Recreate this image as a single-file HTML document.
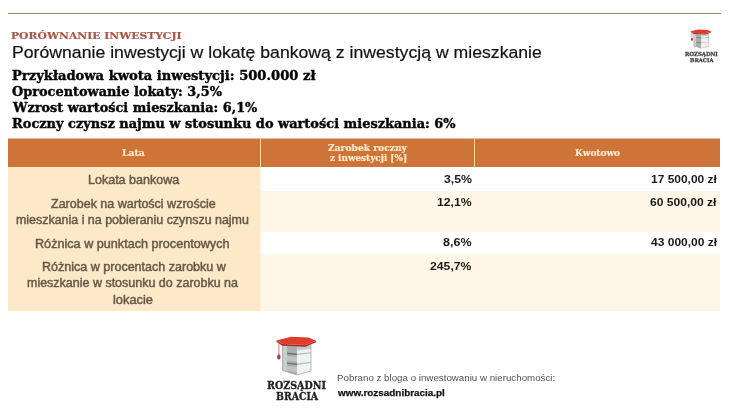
<!DOCTYPE html>
<html lang="pl">
<head>
<meta charset="utf-8">
<title>Porównanie inwestycji</title>
<style>
html,body{margin:0;padding:0;background:#fff;}
body{width:730px;height:413px;position:relative;overflow:hidden;font-family:"Liberation Sans",sans-serif;}
.abs{position:absolute;}
.t{position:absolute;white-space:nowrap;transform-origin:0 0;line-height:1;}
.h1{font-family:"DejaVu Serif","Liberation Serif",serif;font-weight:bold;color:#a85846;-webkit-text-stroke:0.2px #a85846;}
.h2{color:#111;-webkit-text-stroke:0.2px #111;}
.b{font-family:"DejaVu Serif","Liberation Serif",serif;font-weight:bold;color:#050505;-webkit-text-stroke:0.4px #050505;}
.th{font-family:"DejaVu Serif","Liberation Serif",serif;font-weight:bold;color:#ffe9cc;-webkit-text-stroke:0.2px #ffe9cc;}
.c1{color:#665848;-webkit-text-stroke:0.45px #665848;}
.num{font-weight:bold;color:#1a1a1a;}
.foot1{color:#505050;}
.foot2{color:#111;font-weight:bold;-webkit-text-stroke:0.25px #111;}
.lg{font-family:"DejaVu Serif","Liberation Serif",serif;font-weight:bold;color:#222;-webkit-text-stroke:0.3px #222;}
.slg{color:#3a3a3a;-webkit-text-stroke:0.25px #3a3a3a;}
.cell{position:absolute;}
</style>
</head>
<body>
<div class="abs" style="left:8px;top:10px;width:713px;height:3px;background:#fffbf4"></div>
<div class="abs" style="left:8px;top:13px;width:713px;height:1px;background:#a38b74"></div>

<!-- small logo top right -->
<svg class="abs" style="left:684px;top:24px" width="36" height="28" viewBox="0 0 36 28">
  <g transform="translate(3.3,2.2) scale(0.5215,0.49)">
  <polygon points="12.6,14.5 27,15.5 27,44.9 12.6,40.4" fill="#a9afae"/>
  <polygon points="12.6,14.5 17,14.8 17,41.8 12.6,40.4" fill="#c9cecd"/>
  <polygon points="27,15.5 41,14.5 41,41 27,44.9" fill="#f0f2f2"/>
  <polygon points="27,15.5 41,14.5 41,19 27,20.5" fill="#c4c9c9"/>
  <polygon points="17,22.6 27,23.4 27,25 17,24.2" fill="#6f7777"/>
  <polygon points="17,32.4 27,33.4 27,35 17,34" fill="#6f7777"/>
  <polygon points="27,23.4 41,22.2 41,23.4 27,25" fill="#b9bfbf"/>
  <polygon points="27,33.4 41,31.8 41,33 27,35" fill="#b9bfbf"/>
  <path d="M12.6,14.5 L12.6,40.4 L27,44.9 L41,41 L41,14.5" fill="none" stroke="#8d9493" stroke-width="0.8"/>
  <polygon points="6.5,10.4 12.6,14 35.4,15.1 46,10.7 46,12.3 35.4,16.8 12.6,15.7 6.5,12" fill="#a92b23"/>
  <polygon points="6.5,10.4 21,6.7 38.7,7.6 46,10.7 35.4,15.1 12.6,14" fill="#e03b2b"/>
  <rect x="8.3" y="11.5" width="1.2" height="13" fill="#c9574d"/>
  <ellipse cx="8.9" cy="26.9" rx="1.9" ry="2.8" fill="#a8323a"/>
  </g>
</svg>

<!-- table -->
<div class="abs" style="left:8px;top:139px;width:712px;height:172px;">
  <div class="cell" style="left:0;top:-1px;width:712px;height:1px;background:#e8bc9e"></div>
  <div class="cell" style="left:0;top:0;width:712px;height:28px;background:#ce7439"></div>
  <div class="cell" style="left:252px;top:0;width:1px;height:28px;background:#ffd6a4"></div>
  <div class="cell" style="left:466px;top:0;width:1px;height:28px;background:#ffd6a4"></div>
  <div class="cell" style="left:0;top:28px;width:252px;height:144px;background:#fde9c8"></div>
  <div class="cell" style="left:252px;top:28px;width:1px;height:144px;background:#fff3e2"></div>
  <div class="cell" style="left:253px;top:28px;width:459px;height:24px;background:#ffffff"></div>
  <div class="cell" style="left:253px;top:52px;width:459px;height:41px;background:#fff6e7"></div>
  <div class="cell" style="left:253px;top:93px;width:459px;height:22px;background:#ffffff"></div>
  <div class="cell" style="left:253px;top:115px;width:459px;height:57px;background:#fff6e7"></div>
</div>

<!-- footer logo -->
<svg class="abs" style="left:270px;top:330px" width="56" height="50" viewBox="0 0 56 50">
  <g id="lgo">
  <polygon points="12.6,14.5 27,15.5 27,44.9 12.6,40.4" fill="#a9afae"/>
  <polygon points="12.6,14.5 17,14.8 17,41.8 12.6,40.4" fill="#c9cecd"/>
  <polygon points="27,15.5 41,14.5 41,41 27,44.9" fill="#f0f2f2"/>
  <polygon points="27,15.5 41,14.5 41,19 27,20.5" fill="#c4c9c9"/>
  <polygon points="17,22.6 27,23.4 27,25 17,24.2" fill="#6f7777"/>
  <polygon points="17,32.4 27,33.4 27,35 17,34" fill="#6f7777"/>
  <polygon points="27,23.4 41,22.2 41,23.4 27,25" fill="#b9bfbf"/>
  <polygon points="27,33.4 41,31.8 41,33 27,35" fill="#b9bfbf"/>
  <polygon points="17,26 27,27 27,31.6 17,30.6" fill="#bfc5c4"/>
  <polygon points="17,36 27,37 27,42.6 17,40.4" fill="#bfc5c4"/>
  <path d="M12.6,14.5 L12.6,40.4 L27,44.9 L41,41 L41,14.5" fill="none" stroke="#8d9493" stroke-width="0.6"/>
  <polygon points="6.5,10.4 12.6,14 35.4,15.1 46,10.7 46,12.3 35.4,16.8 12.6,15.7 6.5,12" fill="#a92b23"/>
  <polygon points="6.5,10.4 21,6.7 38.7,7.6 46,10.7 35.4,15.1 12.6,14" fill="#e03b2b"/>
  <rect x="8.5" y="11.5" width="0.8" height="13" fill="#c9574d"/>
  <ellipse cx="8.9" cy="26.9" rx="1.7" ry="2.6" fill="#a8323a"/>
  </g>
</svg>
<div class="t h1" id="h1" style="left:11.29px;top:30.61px;font-size:9.8px;transform:scaleX(1.1024);">PORÓWNANIE INWESTYCJI</div>
<div class="t h2" id="h2" style="left:11.55px;top:44.51px;font-size:16.9px;transform:scaleX(1.0452);">Porównanie inwestycji w lokatę bankową z inwestycją w mieszkanie</div>
<div class="t b" id="b1" style="left:12.17px;top:69.60px;font-size:12.7px;transform:scaleX(1.0328);">Przykładowa kwota inwestycji: 500.000 zł</div>
<div class="t b" id="b2" style="left:12.01px;top:86.00px;font-size:12.7px;transform:scaleX(1.0153);">Oprocentowanie lokaty: 3,5%</div>
<div class="t b" id="b3" style="left:12.97px;top:102.21px;font-size:12.7px;transform:scaleX(1.0118);">Wzrost wartości mieszkania: 6,1%</div>
<div class="t b" id="b4" style="left:12.20px;top:118.41px;font-size:12.7px;transform:scaleX(1.0196);">Roczny czynsz najmu w stosunku do wartości mieszkania: 6%</div>
<div class="t th" id="th1" style="left:122.43px;top:148.80px;font-size:8.4px;transform:scaleX(1.1047);">Lata</div>
<div class="t th" id="th2a" style="left:328.40px;top:144.01px;font-size:8.4px;transform:scaleX(1.0913);">Zarobek roczny</div>
<div class="t th" id="th2b" style="left:330.21px;top:154.30px;font-size:8.4px;transform:scaleX(1.0554);">z inwestycji [%]</div>
<div class="t th" id="th3" style="left:574.95px;top:149.21px;font-size:8.4px;transform:scaleX(1.0641);">Kwotowo</div>
<div class="t c1" id="r1" style="left:88.46px;top:174.71px;font-size:11.9px;transform:scaleX(1.0522);">Lokata bankowa</div>
<div class="t c1" id="r2a" style="left:50.79px;top:198.71px;font-size:11.9px;transform:scaleX(1.0520);">Zarobek na wartości wzroście</div>
<div class="t c1" id="r2b" style="left:16.40px;top:214.51px;font-size:11.9px;transform:scaleX(1.0455);">mieszkania i na pobieraniu czynszu najmu</div>
<div class="t c1" id="r3" style="left:34.93px;top:238.91px;font-size:11.9px;transform:scaleX(1.0625);">Różnica w punktach procentowych</div>
<div class="t c1" id="r4a" style="left:41.95px;top:261.71px;font-size:11.9px;transform:scaleX(1.0536);">Różnica w procentach zarobku w</div>
<div class="t c1" id="r4b" style="left:27.37px;top:278.01px;font-size:11.9px;transform:scaleX(1.0500);">mieszkanie w stosunku do zarobku na</div>
<div class="t c1" id="r4c" style="left:112.89px;top:294.60px;font-size:11.9px;transform:scaleX(1.0797);">lokacie</div>
<div class="t num" id="n1" style="left:443.51px;top:172.50px;font-size:11.7px;transform:scaleX(1.0516);">3,5%</div>
<div class="t num" id="n2" style="left:437.00px;top:196.41px;font-size:11.7px;transform:scaleX(1.0458);">12,1%</div>
<div class="t num" id="n3" style="left:443.20px;top:236.32px;font-size:11.7px;transform:scaleX(1.0707);">8,6%</div>
<div class="t num" id="n4" style="left:430.26px;top:259.82px;font-size:11.7px;transform:scaleX(1.0449);">245,7%</div>
<div class="t num" id="k1" style="left:650.50px;top:172.50px;font-size:11.7px;transform:scaleX(1.0244);">17 500,00 zł</div>
<div class="t num" id="k2" style="left:649.55px;top:196.41px;font-size:11.7px;transform:scaleX(1.0329);">60 500,00 zł</div>
<div class="t num" id="k3" style="left:650.72px;top:236.32px;font-size:11.7px;transform:scaleX(1.0284);">43 000,00 zł</div>
<div class="t foot1" id="f1" style="left:336.64px;top:373.01px;font-size:9.9px;transform:scaleX(0.9864);">Pobrano z bloga o inwestowaniu w nieruchomości:</div>
<div class="t foot2" id="f2" style="left:337.76px;top:388.72px;font-size:9.3px;transform:scaleX(1.0644);">www.rozsadnibracia.pl</div>
<div class="t lg" id="lg1" style="left:267.10px;top:381.01px;font-size:10.8px;transform:scaleX(0.8832);">ROZSĄDNI</div>
<div class="t lg" id="lg2" style="left:275.60px;top:390.60px;font-size:10.4px;transform:scaleX(0.9005);">BRACIA</div>
<div class="t lg slg" id="slg1" style="left:685.38px;top:51.90px;font-size:5.6px;transform:scaleX(0.9504);">ROZSĄDNI</div>
<div class="t lg slg" id="slg2" style="left:690.17px;top:58.00px;font-size:5.2px;transform:scaleX(1.0072);">BRACIA</div>
</body>
</html>
